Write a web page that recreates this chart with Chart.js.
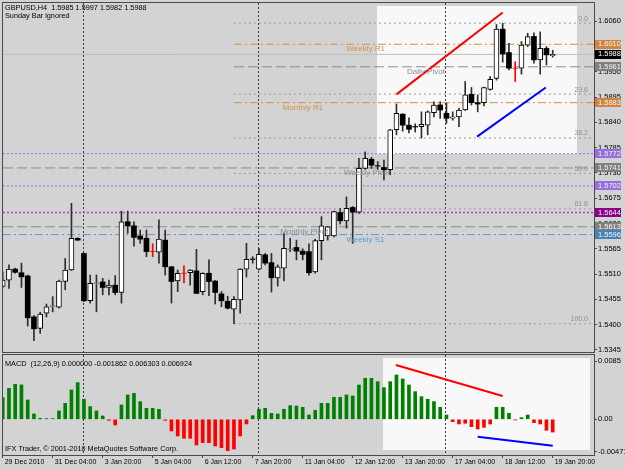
<!DOCTYPE html>
<html>
<head>
<meta charset="utf-8">
<title>GBPUSD H4</title>
<script src="https://cdn.jsdelivr.net/npm/chart.js@4.4.1/dist/chart.umd.min.js"></script>
<style>
  html, body { margin:0; padding:0; background:#d3d3d3; }
  #wrap { position:relative; width:625px; height:469px; overflow:hidden; background:#d3d3d3; }
  #wrap canvas { position:absolute; left:0; top:0; }
</style>
</head>
<body>
<div id="wrap">
  <canvas id="priceChart" width="625" height="469"></canvas>
  <canvas id="macdChart" width="625" height="469"></canvas>
</div>
<script>
// ------------------------------------------------------------------ data
const symbol = 'GBPUSD';
const period = 'H4';
const barOpen  = [1.5483,1.5497,1.5521,1.5513,1.5506,1.5417,1.5392,1.5425,1.5440,1.5438,
                  1.5494,1.5519,1.5588,1.5555,1.5452,1.5490,1.5493,1.5481,1.5486,1.5470,
                  1.5624,1.5615,1.5593,1.5588,1.5559,1.5558,1.5584,1.5526,1.5495,1.5512,
                  1.5513,1.5517,1.5472,1.5512,1.5495,1.5467,1.5451,1.5434,1.5454,1.5521,
                  1.5543,1.5521,1.5552,1.5535,1.5502,1.5523,1.5564,1.5568,1.5560,1.5559,
                  1.5515,1.5583,1.5593,1.5593,1.5644,1.5626,1.5655,1.5645,1.5740,1.5760,
                  1.5746,1.5742,1.5737,1.5824,1.5858,1.5834,1.5831,1.5831,1.5834,1.5861,
                  1.5878,1.5860,1.5849,1.5852,1.5867,1.5901,1.5883,1.5883,1.5912,1.5936,
                  1.6043,1.5992,1.5958,1.5958,1.6008,1.6027,1.5976,1.6001,1.5985];
const barHigh  = [1.5515,1.5530,1.5523,1.5534,1.5508,1.5420,1.5427,1.5445,1.5461,1.5497,
                  1.5544,1.5664,1.5589,1.5556,1.5508,1.5508,1.5501,1.5497,1.5507,1.5647,
                  1.5647,1.5624,1.5606,1.5606,1.5576,1.5628,1.5606,1.5527,1.5519,1.5528,
                  1.5520,1.5564,1.5513,1.5541,1.5496,1.5472,1.5462,1.5461,1.5522,1.5577,
                  1.5548,1.5566,1.5555,1.5555,1.5530,1.5599,1.5588,1.5584,1.5565,1.5576,
                  1.5586,1.5635,1.5614,1.5647,1.5653,1.5678,1.5657,1.5762,1.5776,1.5764,
                  1.5755,1.5758,1.5825,1.5880,1.5859,1.5850,1.5837,1.5863,1.5865,1.5885,
                  1.5885,1.5882,1.5863,1.5871,1.5929,1.5916,1.5900,1.5917,1.5940,1.6053,
                  1.6056,1.6012,1.5972,1.6016,1.6034,1.6035,1.6037,1.6005,1.5997];
const barLow   = [1.5481,1.5479,1.5512,1.5481,1.5397,1.5365,1.5381,1.5417,1.5428,1.5436,
                  1.5476,1.5518,1.5583,1.5450,1.5447,1.5428,1.5465,1.5465,1.5465,1.5447,
                  1.5599,1.5571,1.5577,1.5548,1.5548,1.5534,1.5508,1.5447,1.5472,1.5491,
                  1.5486,1.5468,1.5465,1.5463,1.5445,1.5439,1.5434,1.5402,1.5425,1.5504,
                  1.5534,1.5519,1.5530,1.5471,1.5484,1.5495,1.5559,1.5541,1.5541,1.5508,
                  1.5512,1.5541,1.5584,1.5591,1.5619,1.5610,1.5577,1.5642,1.5738,1.5740,
                  1.5738,1.5715,1.5726,1.5813,1.5821,1.5817,1.5819,1.5806,1.5813,1.5852,
                  1.5849,1.5838,1.5845,1.5831,1.5866,1.5878,1.5863,1.5876,1.5910,1.5932,
                  1.5971,1.5954,1.5929,1.5945,1.6005,1.5969,1.5945,1.5965,1.5982];
const barClose = [1.5497,1.5521,1.5514,1.5504,1.5415,1.5391,1.5423,1.5439,1.5441,1.5495,
                  1.5519,1.5588,1.5584,1.5452,1.5490,1.5491,1.5481,1.5486,1.5470,1.5624,
                  1.5615,1.5590,1.5586,1.5559,1.5559,1.5586,1.5526,1.5494,1.5512,1.5512,
                  1.5519,1.5468,1.5512,1.5494,1.5470,1.5452,1.5436,1.5455,1.5521,1.5542,
                  1.5542,1.5553,1.5534,1.5502,1.5526,1.5566,1.5565,1.5560,1.5553,1.5513,
                  1.5583,1.5615,1.5613,1.5646,1.5626,1.5653,1.5645,1.5740,1.5762,1.5747,
                  1.5745,1.5737,1.5824,1.5860,1.5834,1.5825,1.5830,1.5836,1.5863,1.5878,
                  1.5867,1.5849,1.5852,1.5867,1.5900,1.5883,1.5880,1.5916,1.5934,1.6043,
                  1.5989,1.5958,1.5958,1.6008,1.6027,1.5976,1.6001,1.5987,1.5988];
const macdHist = [0.00316,0.00452,0.00510,0.00501,0.00282,0.00078,0.00015,0.00010,0.00010,0.00122,
                  0.00233,0.00428,0.00535,0.00292,0.00185,0.00122,0.00049,-0.00015,-0.00083,0.00209,
                  0.00355,0.00379,0.00258,0.00160,0.00160,0.00146,-0.00015,-0.00170,-0.00243,-0.00277,
                  -0.00277,-0.00374,-0.00340,-0.00340,-0.00389,-0.00413,-0.00457,-0.00433,-0.00243,-0.00068,
                  0.00053,0.00146,0.00160,0.00087,0.00078,0.00146,0.00199,0.00194,0.00175,0.00063,
                  0.00130,0.00233,0.00233,0.00321,0.00321,0.00355,0.00340,0.00500,0.00598,0.00598,
                  0.00549,0.00462,0.00549,0.00646,0.00588,0.00500,0.00403,0.00330,0.00292,0.00258,
                  0.00175,0.00063,-0.00034,-0.00068,-0.00058,-0.00107,-0.00141,-0.00117,-0.00068,0.00175,
                  0.00175,0.00087,-0.00010,0.00024,0.00063,-0.00049,-0.00068,-0.00160,-0.00186];
const timeLabels = ['29 Dec 2010','31 Dec 04:00','3 Jan 20:00','5 Jan 04:00','6 Jan 12:00','7 Jan 20:00',
                    '11 Jan 04:00','12 Jan 12:00','13 Jan 20:00','17 Jan 04:00','18 Jan 12:00','19 Jan 20:00'];
const timeLabelBars = [0,8,16,24,32,40,48,56,64,72,80,88];
const separatorBars = [13,41,71];
const priceTicks = [1.5345,1.5400,1.5455,1.5510,1.5565,1.5620,1.5675,1.5730,1.5785,1.5840,1.5895,1.5950,1.6005,1.6060];
const macdTicks = [0.0085,0,-0.00471];
const macdTickLabels = ['0.0085','0.00','-0.00471'];
const macdName = 'MACD';
const macdParams = '(12,26,9)';
const macdReadout = ['0.000000','-0.001862','0.006303','0.006924'];
const levelNames  = ['Weekly R1','Daily Pivot','Monthly R1','','Weekly Pivot','','','Monthly Pivot','Weekly S1'];
const levelValues = [1.6010,1.5961,1.5883,1.5772,1.5741,1.5702,1.5644,1.5613,1.5596];
const fibLevels = [0.0,23.6,38.2,50.0,61.8,100.0];
const fibHighBar = 80, fibLowBar = 37;
const redTrendBars = [63.0,80.0],  redTrendPrices = [1.5901,1.6079];
const blueTrendBars = [75.9,86.9], blueTrendPrices = [1.5809,1.5916];
const redMacdBars = [62.9,80.0],   redMacdValues = [0.00792,0.00340];
const blueMacdBars = [76.0,88.0],  blueMacdValues = [-0.00254,-0.00385];
const boxMainBars = [59.9,91.9],   boxMainPrices = [1.5771,1.6093];
const boxMacdBars = [60.85,93.97], boxMacdValues = [-0.00447,0.00894];
const headerNote = 'Sunday Bar ignored';
const copyright = 'IFX Trader, \u00A9 2001-2010 MetaQuotes Software Corp.';

// ------------------------------------------------------------------ style / layout
const FONT = '"Liberation Sans", Arial, sans-serif';
const FRAME = '#4a4a4a';
const XMIN = 0.048, XMAX = 94.608;
const YMIN = 1.53406, YMAX = 1.60998;
const MMIN = -0.005205, MMAX = 0.009375;
const levelStyle = [
  {color:'#d4904a', box:'#cd853f', dash:[8,3,2,3], width:1, from:37, labelBar:55.0},
  {color:'#8c8c8c', box:'#808080', dash:[10,4],    width:1, from:37, labelBar:64.7},
  {color:'#d4904a', box:'#cd853f', dash:[8,3,2,3], width:1, from:37, labelBar:44.8},
  {color:'#9370db', box:'#9370db', dash:[2,2],     width:1, from:XMIN},
  {color:'#8c8c8c', box:'#808080', dash:[10,4],    width:1, from:XMIN, labelBar:54.6},
  {color:'#9370db', box:'#9370db', dash:[2,2],     width:1, from:XMIN},
  {color:'#b048b8', box:'#8b008b', dash:[2,2],     width:1.6, from:XMIN},
  {color:'#8c8c8c', box:'#808080', dash:[10,4],    width:1, from:XMIN, labelBar:44.4},
  {color:'#5b9bd5', box:'#4682b4', dash:[8,3,2,3], width:1, from:XMIN, labelBar:55.0}
];
const labelColor = ['#d4904a','#8c8c8c','#d4904a','','#8c8c8c','','','#8c8c8c','#5b9bd5'];

const N = barOpen.length;
const fmt4 = v => v.toFixed(4);
const isDoji = i => barOpen[i] === barClose[i];
const isBull = i => barClose[i] > barOpen[i];
const MIN_BODY = 0.00003;
const bodies = barOpen.map((o, i) => {
  const c = barClose[i];
  let lo = Math.min(o, c), hi = Math.max(o, c);
  if (hi - lo < MIN_BODY) { const m = (hi + lo) / 2; lo = m - MIN_BODY / 2; hi = m + MIN_BODY / 2; }
  return {x: i, y: [lo, hi]};
});
const wicks = barOpen.map((o, i) => ({x: i, y: [barLow[i], barHigh[i]]}));
const fibHigh = barHigh[fibHighBar], fibLow = barLow[fibLowBar];
const fibPrices = fibLevels.map(l => fibHigh - (fibHigh - fibLow) * l / 100);
const bidPrice = barClose[N - 1];

function hLine(value, from, style, order) {
  return {type:'line', data:[{x:from, y:value},{x:XMAX, y:value}], borderColor:style.color,
    borderDash:style.dash, borderWidth:style.width, pointRadius:0, fill:false, order:order, tension:0};
}
function segLine(bars, vals, color) {
  return {type:'line', data:bars.map((b, k) => ({x:b, y:vals[k]})), borderColor:color,
    borderWidth:2, pointRadius:0, fill:false, order:-1, tension:0};
}
function txt(ctx, s, x, y, color, size, align, base) {
  ctx.font = size + 'px ' + FONT;
  ctx.fillStyle = color; ctx.textAlign = align || 'left'; ctx.textBaseline = base || 'middle';
  ctx.fillText(s, x, y);
}
function drawSeparators(chart) {
  const {ctx, chartArea:ca, scales:{x}} = chart;
  ctx.save();
  ctx.strokeStyle = '#3a3a3a'; ctx.lineWidth = 1; ctx.setLineDash([2,2]);
  separatorBars.forEach(b => {
    const px = Math.round(x.getPixelForValue(b)) - 0.5;
    ctx.beginPath(); ctx.moveTo(px, ca.top); ctx.lineTo(px, ca.bottom); ctx.stroke();
  });
  ctx.restore();
}
function drawBox(chart, bars, vals, color) {
  const {ctx, chartArea:ca, scales:{x, y}} = chart;
  const x0 = x.getPixelForValue(bars[0]), x1 = Math.min(x.getPixelForValue(bars[1]), ca.right);
  const y0 = y.getPixelForValue(vals[1]), y1 = y.getPixelForValue(vals[0]);
  ctx.save(); ctx.fillStyle = color;
  ctx.fillRect(Math.round(x0), Math.round(y0), Math.round(x1) - Math.round(x0), Math.round(y1) - Math.round(y0));
  ctx.restore();
}
function drawFrame(chart) {
  const {ctx, chartArea:ca} = chart;
  ctx.save(); ctx.strokeStyle = FRAME; ctx.lineWidth = 1;
  ctx.strokeRect(ca.left - 0.5, ca.top - 0.5, ca.right - ca.left + 1, ca.bottom - ca.top + 1);
  ctx.restore();
}

const pricePlugin = {
  id: 'priceDecor',
  beforeDatasetsDraw(chart) {
    drawBox(chart, boxMainBars, boxMainPrices, '#f8f8f8');
    drawSeparators(chart);
  },
  afterDatasetsDraw(chart) {
    const {ctx, scales:{x, y}} = chart;
    ctx.save();
    levelNames.forEach((name, i) => {
      if (!name) return;
      txt(ctx, name, x.getPixelForValue(levelStyle[i].labelBar), y.getPixelForValue(levelValues[i]) + 1, labelColor[i], 8, 'left', 'top');
    });
    fibLevels.forEach((l, i) => {
      txt(ctx, l.toFixed(1), x.getPixelForValue(93.65), y.getPixelForValue(fibPrices[i]) - 1, '#8e8e8e', 7, 'right', 'bottom');
    });
    txt(ctx, symbol + ',' + period + '  ' + fmt4(barOpen[N-1]) + ' ' + fmt4(barHigh[N-1]) + ' ' + fmt4(barLow[N-1]) + ' ' + fmt4(barClose[N-1]), 5, 8, '#000', 7.3);
    txt(ctx, headerNote, 5, 16, '#000', 7.3);
    ctx.restore();
  },
  afterDraw(chart) {
    const {ctx, chartArea:ca, scales:{y}} = chart;
    ctx.save();
    const boxes = levelValues.map((v, i) => ({v, bg: levelStyle[i].box, fg:'#f4f4f4'}));
    boxes.push({v: bidPrice, bg:'#000000', fg:'#ffffff'});
    boxes.forEach(b => {
      const py = y.getPixelForValue(b.v);
      ctx.fillStyle = b.bg;
      ctx.fillRect(ca.right, Math.round(py - 4.5), 27, 9);
      txt(ctx, fmt4(b.v), ca.right + 4, py, b.fg, 7.5);
    });
    ctx.restore();
    drawFrame(chart);
  }
};

const macdPlugin = {
  id: 'macdDecor',
  beforeDatasetsDraw(chart) {
    drawBox(chart, boxMacdBars, boxMacdValues, '#f8f8f8');
    drawSeparators(chart);
  },
  afterDatasetsDraw(chart) {
    const {ctx, chartArea:ca} = chart;
    txt(ctx, macdName + '  ' + macdParams + ' ' + macdReadout.join(' '), 5, ca.top + 8.5, '#000', 7.3);
    txt(ctx, copyright, 5, ca.bottom - 6, '#000', 7.3);
  },
  afterDraw(chart) { drawFrame(chart); }
};

const axisFont = {family: FONT, size: 7.5};
const timeFont = {family: FONT, size: 7};

// ------------------------------------------------------------------ price chart
const priceDatasets = [
  {type:'bar', data:bodies, grouped:false, barThickness:5, order:0, borderSkipped:false,
   backgroundColor: c => isDoji(c.dataIndex) ? '#ff0000' : (isBull(c.dataIndex) ? '#ffffff' : '#000000'),
   borderColor: c => isDoji(c.dataIndex) ? '#ff0000' : '#000000',
   borderWidth: c => isBull(c.dataIndex) ? 1 : 0},
  {type:'bar', data:wicks, grouped:false, barThickness:1, order:1, borderWidth:0,
   backgroundColor: c => isDoji(c.dataIndex) ? '#ff0000' : '#2e2e2e'},
  hLine(bidPrice, XMIN, {color:'#bdbdbd', dash:[], width:1}, 7),
  segLine(redTrendBars, redTrendPrices, '#ff0000'),
  segLine(blueTrendBars, blueTrendPrices, '#0000ff')
];
levelValues.forEach((v, i) => priceDatasets.push(hLine(v, levelStyle[i].from, levelStyle[i], 5)));
fibPrices.forEach(p => priceDatasets.push(hLine(p, fibLowBar, {color:'#9a9a9a', dash:[2,3], width:1}, 6)));

new Chart(document.getElementById('priceChart'), {
  type: 'bar',
  data: {datasets: priceDatasets},
  options: {
    responsive:false, animation:false, devicePixelRatio:1,
    layout: {padding: {left:3, top:3, right:0, bottom:117}},
    plugins: {legend:{display:false}, tooltip:{enabled:false}, title:{display:false}},
    scales: {
      x: {type:'linear', min:XMIN, max:XMAX, offset:false, display:false, grid:{offset:false}},
      y: {type:'linear', position:'right', min:YMIN, max:YMAX,
          afterBuildTicks: s => { s.ticks = priceTicks.map(v => ({value:v})); },
          afterFit: s => { s.width = 31; s.paddingTop = 0; s.paddingBottom = 0; },
          ticks: {callback: v => fmt4(v), font:axisFont, color:'#000', padding:1, autoSkip:false},
          grid: {drawOnChartArea:false, drawTicks:true, tickLength:3, color:FRAME},
          border: {display:true, color:FRAME}}
    }
  },
  plugins: [pricePlugin]
});

// ------------------------------------------------------------------ MACD chart
new Chart(document.getElementById('macdChart'), {
  type: 'bar',
  data: {datasets: [
    {type:'bar', data: macdHist.map((v, i) => ({x:i, y:v})), grouped:false, barThickness:3, order:1, borderWidth:0,
     backgroundColor: c => (macdHist[c.dataIndex] >= 0 ? '#008000' : '#ff0000')},
    segLine(redMacdBars, redMacdValues, '#ff0000'),
    segLine(blueMacdBars, blueMacdValues, '#0000ff')
  ]},
  options: {
    responsive:false, animation:false, devicePixelRatio:1,
    layout: {padding: {left:3, top:355, right:0, bottom:0}},
    plugins: {legend:{display:false}, tooltip:{enabled:false}, title:{display:false}},
    scales: {
      x: {type:'linear', position:'bottom', min:XMIN, max:XMAX, offset:false,
          afterBuildTicks: s => { s.ticks = timeLabelBars.map(v => ({value:v})); },
          afterFit: s => { s.height = 14; s.paddingLeft = 0; s.paddingRight = 0; },
          ticks: {autoSkip:false, maxRotation:0, minRotation:0, align:'start', labelOffset:2, padding:0,
                  font:timeFont, color:'#000', callback: v => timeLabels[timeLabelBars.indexOf(v)]},
          grid: {drawOnChartArea:false, drawTicks:true, tickLength:3, color:FRAME, offset:false},
          border: {display:true, color:FRAME}},
      y: {type:'linear', position:'right', min:MMIN, max:MMAX,
          afterBuildTicks: s => { s.ticks = macdTicks.map(v => ({value:v})); },
          afterFit: s => { s.width = 31; s.paddingTop = 0; s.paddingBottom = 0; },
          ticks: {callback: v => macdTickLabels[macdTicks.indexOf(v)], font:axisFont, color:'#000', padding:1, autoSkip:false},
          grid: {drawOnChartArea:false, drawTicks:true, tickLength:3, color:FRAME},
          border: {display:true, color:FRAME}}
    }
  },
  plugins: [macdPlugin]
});
</script>
</body>
</html>
